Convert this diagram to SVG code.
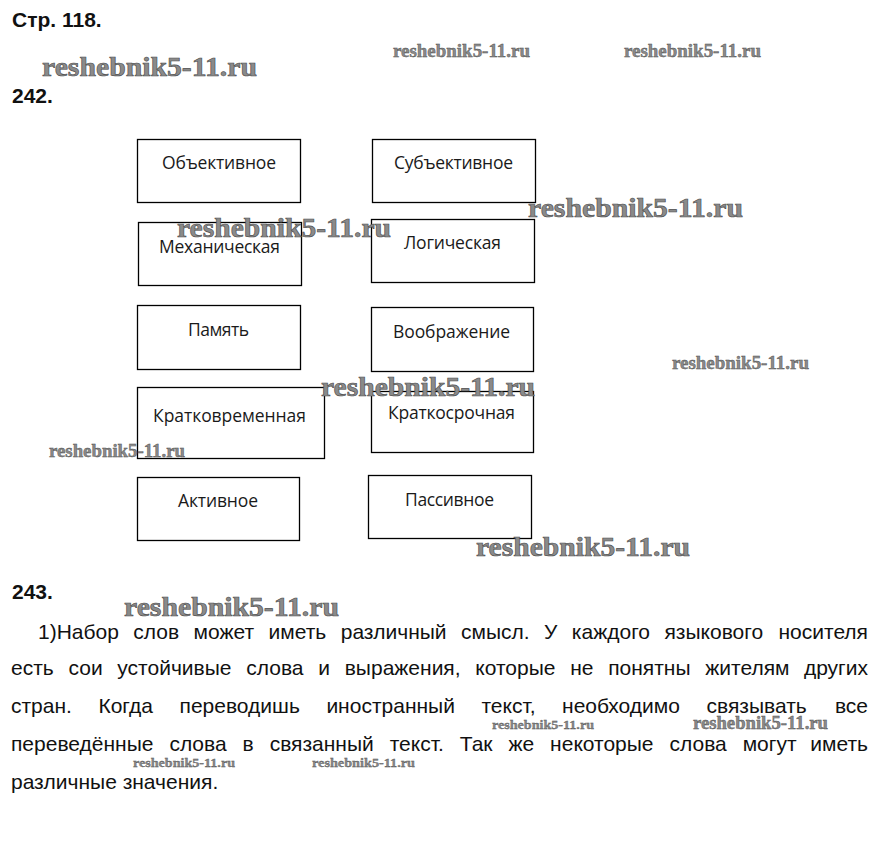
<svg xmlns="http://www.w3.org/2000/svg" width="880" height="845" viewBox="0 0 880 845">
<style>
.h{font-family:"Liberation Sans",Arial,sans-serif;font-weight:bold;font-size:21px;fill:#111}
.p{font-family:"Liberation Sans",Arial,sans-serif;font-size:21px;fill:#111}
.box{fill:#fff;stroke:#000;stroke-width:1.3}
.lb{font-family:"Open Sans","Noto Sans",sans-serif;font-size:17.5px;fill:#1a1a1a;text-anchor:middle}
.wm{font-family:"Liberation Serif","DejaVu Serif",serif;font-weight:bold;fill:#8a8a8a;stroke:#4a4a4a;stroke-width:0.6}
.wb{font-size:28px}
.ws{font-size:18px;stroke-width:0.4}
.wt{font-size:13px;stroke-width:0.3}
</style>
<rect width="880" height="845" fill="#fff"/>
<text class="h" x="12" y="27">Стр. 118.</text>
<text class="h" x="12" y="103">242.</text>
<text class="h" x="12" y="599">243.</text>

<g id="n1"><rect class="box" x="137.5" y="139.5" width="163" height="63"/><text class="lb" x="219" y="169" textLength="114">Объективное</text></g>
<g id="n2"><rect class="box" x="372.5" y="139.5" width="163" height="63"/><text class="lb" x="453.5" y="169" textLength="119">Субъективное</text></g>
<g id="n3"><rect class="box" x="138.5" y="222.5" width="163" height="63"/><text class="lb" x="219.5" y="253" textLength="121">Механическая</text></g>
<g id="n4"><rect class="box" x="371.5" y="219.5" width="163" height="63"/><text class="lb" x="452.5" y="249" textLength="97">Логическая</text></g>
<g id="n5"><rect class="box" x="137.5" y="305.5" width="163" height="64"/><text class="lb" x="218.5" y="336" textLength="61">Память</text></g>
<g id="n6"><rect class="box" x="371.5" y="307.5" width="162" height="64"/><text class="lb" x="451.5" y="338" textLength="117">Воображение</text></g>
<g id="n7"><rect class="box" x="137.5" y="387.5" width="187" height="71"/><text class="lb" x="229.5" y="422" textLength="153">Кратковременная</text></g>
<g id="n8"><rect class="box" x="371.5" y="391.5" width="162" height="61"/><text class="lb" x="451.5" y="419" textLength="127">Краткосрочная</text></g>
<g id="n9"><rect class="box" x="137.5" y="477.5" width="162" height="63"/><text class="lb" x="218" y="507" textLength="80">Активное</text></g>
<g id="n10"><rect class="box" x="368.5" y="475.5" width="163" height="63"/><text class="lb" x="449.5" y="506" textLength="89">Пассивное</text></g>
<g id="connectors"></g>

<g id="para">
<text class="p" x="38" y="639" style="word-spacing:8.6px">1)Набор слов может иметь различный смысл. У каждого языкового</text>
<text class="p" x="868" y="639" text-anchor="end">носителя</text>
<text class="p" x="11" y="675" style="word-spacing:8.9px">есть сои устойчивые слова и выражения, которые не понятны жителям</text>
<text class="p" x="868" y="675" text-anchor="end">других</text>
<text class="p" x="11" y="713" style="word-spacing:20.7px">стран. Когда переводишь иностранный текст, необходимо связывать</text>
<text class="p" x="868" y="713" text-anchor="end">все</text>
<text class="p" x="11" y="751" style="word-spacing:10.1px">переведённые слова в связанный текст. Так же некоторые слова могут</text>
<text class="p" x="868" y="751" text-anchor="end">иметь</text>
<text class="p" x="11" y="789">различные значения.</text>
</g>

<g id="watermarks">
<text class="wm wb" x="42" y="76" textLength="215" lengthAdjust="spacingAndGlyphs">reshebnik5-11.ru</text>
<text class="wm ws" x="393" y="57" textLength="137" lengthAdjust="spacingAndGlyphs">reshebnik5-11.ru</text>
<text class="wm ws" x="624" y="57" textLength="137" lengthAdjust="spacingAndGlyphs">reshebnik5-11.ru</text>
<text class="wm wb" x="177" y="237" textLength="214" lengthAdjust="spacingAndGlyphs">reshebnik5-11.ru</text>
<text class="wm wb" x="528" y="217" textLength="215" lengthAdjust="spacingAndGlyphs">reshebnik5-11.ru</text>
<text class="wm ws" x="672" y="369" textLength="137" lengthAdjust="spacingAndGlyphs">reshebnik5-11.ru</text>
<text class="wm wb" x="321" y="396" textLength="214" lengthAdjust="spacingAndGlyphs">reshebnik5-11.ru</text>
<text class="wm ws" x="49" y="457" textLength="136" lengthAdjust="spacingAndGlyphs">reshebnik5-11.ru</text>
<text class="wm wb" x="476" y="556" textLength="214" lengthAdjust="spacingAndGlyphs">reshebnik5-11.ru</text>
<text class="wm wb" x="124" y="616" textLength="215" lengthAdjust="spacingAndGlyphs">reshebnik5-11.ru</text>
<text class="wm ws" x="693" y="729" textLength="135" lengthAdjust="spacingAndGlyphs">reshebnik5-11.ru</text>
<text class="wm wt" x="492" y="729" textLength="102" lengthAdjust="spacingAndGlyphs">reshebnik5-11.ru</text>
<text class="wm wt" x="133" y="767" textLength="102" lengthAdjust="spacingAndGlyphs">reshebnik5-11.ru</text>
<text class="wm wt" x="312" y="767" textLength="103" lengthAdjust="spacingAndGlyphs">reshebnik5-11.ru</text>
</g>
</svg>
